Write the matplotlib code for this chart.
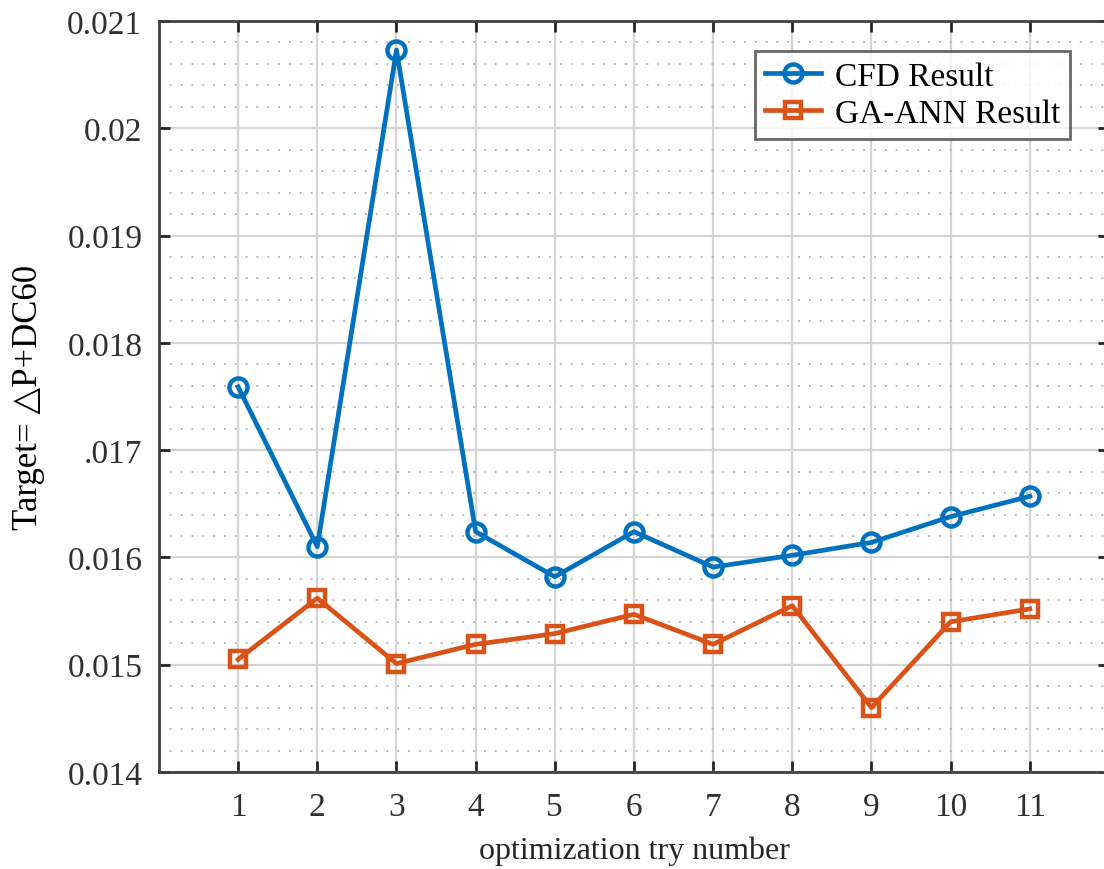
import matplotlib.pyplot as plt
from matplotlib.ticker import FixedLocator, FixedFormatter, MultipleLocator

# data
tries = [1, 2, 3, 4, 5, 6, 7, 8, 9, 10, 11]
cfd = [0.01759, 0.01610, 0.02073, 0.01624, 0.01582, 0.01624,
       0.01591, 0.01602, 0.01614, 0.01638, 0.01657]
ga_ann = [0.01505, 0.01562, 0.01501, 0.01519, 0.01529, 0.01547,
          0.01519, 0.01555, 0.01460, 0.01540, 0.01552]
y_ticks = [0.014, 0.015, 0.016, 0.017, 0.018, 0.019, 0.020, 0.021]
y_tick_labels = ['0.014', '0.015', '0.016', '.017', '0.018', '0.019', '0.02', '0.021']

plt.rcParams['font.family'] = ['Liberation Serif', 'DejaVu Serif']

fig = plt.figure(figsize=(11.04, 8.7), dpi=100)
# right edge of the box runs past the picture, as in the reference
ax = fig.add_axes([0.144, 0.1115, 0.8605, 0.8632])

ax.plot(tries, cfd, color='#0072BD', lw=3.4, marker='o', ms=13,
        mfc='none', mew=3.2, label='CFD Result', zorder=3)
ax.plot(tries, ga_ann, color='#D95319', lw=3.4, marker='s', ms=12,
        mfc='none', mew=3.2, label='GA-ANN Result', zorder=3)

ax.set_xlim(0, 12)
ax.set_ylim(0.014, 0.021)
ax.xaxis.set_major_locator(FixedLocator(tries))
ax.yaxis.set_major_locator(FixedLocator(y_ticks))
ax.yaxis.set_major_formatter(FixedFormatter(y_tick_labels))
ax.yaxis.set_minor_locator(MultipleLocator(0.0002))

ax.grid(True, which='major', color='#d4d4d4', lw=1.6)
ax.grid(True, which='minor', axis='y', color='#b0b0b0', lw=1.3, ls=(0, (1, 5)))
ax.set_axisbelow(True)

ax.tick_params(which='major', direction='in', length=8, width=2, color='#262626',
               labelsize=24, labelcolor='#303030', top=True, right=True)
ax.tick_params(axis='y', pad=12)
ax.tick_params(axis='x', pad=14)
ax.tick_params(which='minor', length=0)
for s in ax.spines.values():
    s.set_color('#404040')
    s.set_linewidth(2)

ax.set_xlabel('optimization try number', fontsize=23, color='#262626', labelpad=10)
ax.set_ylabel('Target= \u25b3P+DC60', fontsize=25, color='black', labelpad=16)

leg = ax.legend(loc='upper left', bbox_to_anchor=(0.627, 0.960), fontsize=24,
                frameon=True, fancybox=False, edgecolor='#404040',
                handlelength=1.7, borderpad=0.3, labelspacing=0.2,
                handletextpad=0.4, borderaxespad=0)
leg.get_frame().set_linewidth(2)

fig.savefig('out.png', dpi=100)
